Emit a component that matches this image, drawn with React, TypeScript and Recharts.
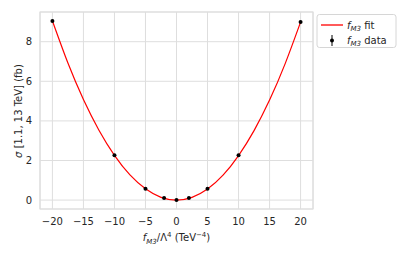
import { ComposedChart, Line, Scatter, XAxis, YAxis, CartesianGrid, ReferenceArea, Label } from "recharts";

// measured points
const xValues = [-20, -10, -5, -2, 0, 2, 5, 10, 20];
const yValues = [9.05, 2.26, 0.57, 0.1, 0.0, 0.1, 0.57, 2.26, 8.99];

// fit curve
const fitX = [-20, -17.5, -15, -12.5, -10, -7.5, -5, -2.5, 0, 2.5, 5, 7.5, 10, 12.5, 15, 17.5, 20];
const fitY = [9.05, 6.92, 5.08, 3.53, 2.26, 1.27, 0.57, 0.14, 0.0, 0.14, 0.56, 1.26, 2.25, 3.51, 5.05, 6.88, 8.99];

const xTicks = [-20, -15, -10, -5, 0, 5, 10, 15, 20];
const yTicks = [0, 2, 4, 6, 8];

const font = "DejaVu Sans";
const textColor = "#262626";
const gridColor = "#dedede";

const points = xValues.map((x, i) => ({ x, y: yValues[i] }));
const fit = fitX.map((x, i) => ({ x, y: fitY[i] }));

const fmt = (v: number) => (v < 0 ? `\u2212${Math.abs(v)}` : `${v}`);

const XLabel = () => (
  <text x={176.5} y={241} textAnchor="middle" fontFamily={font} fontSize={10} fill={textColor}>
    <tspan fontStyle="italic">f</tspan>
    <tspan fontSize={7} fontStyle="italic" dy={2.5}>M3</tspan>
    <tspan dy={-2.5}>/Λ</tspan>
    <tspan fontSize={7} dy={-4}>4</tspan>
    <tspan dy={4}> (TeV</tspan>
    <tspan fontSize={7} dy={-4}>−4</tspan>
    <tspan dy={4}>)</tspan>
  </text>
);

const YLabel = () => (
  <text
    x={0}
    y={0}
    transform="translate(21.5,111) rotate(-90)"
    textAnchor="middle"
    fontFamily={font}
    fontSize={10}
    fill={textColor}
  >
    <tspan fontStyle="italic">σ</tspan>
    <tspan> [1.1, 13 TeV] (fb)</tspan>
  </text>
);

const LegendBox = () => (
  <svg width={407} height={255} style={{ position: "absolute", left: 0, top: 0, pointerEvents: "none" }}>
    <rect x={317} y={14.5} width={79} height={33} rx={2.5} fill="white" stroke="#d6d6d6" strokeWidth={1} />
    <line x1={321} x2={343} y1={25} y2={25} stroke="#ff0000" strokeWidth={1.3} />
    <text x={347} y={28.5} fontFamily={font} fontSize={10} fill={textColor}>
      <tspan fontStyle="italic">f</tspan>
      <tspan fontSize={7} fontStyle="italic" dy={2.5}>M3</tspan>
      <tspan dy={-2.5}> fit</tspan>
    </text>
    <line x1={332} x2={332} y1={35} y2={46} stroke="#000" strokeWidth={1} />
    <circle cx={332} cy={40.5} r={2} fill="#000" />
    <text x={347} y={43.5} fontFamily={font} fontSize={10} fill={textColor}>
      <tspan fontStyle="italic">f</tspan>
      <tspan fontSize={7} fontStyle="italic" dy={2.5}>M3</tspan>
      <tspan dy={-2.5}> data</tspan>
    </text>
  </svg>
);

export default function App() {
  return (
    <div style={{ position: "absolute", left: 0, top: 0, width: 407, height: 255, background: "white" }}>
      <ComposedChart width={407} height={255} margin={{ top: 12, right: 94, bottom: 0, left: 0 }}>
        <CartesianGrid stroke={gridColor} strokeWidth={1} />
        <XAxis
          dataKey="x"
          type="number"
          domain={[-22, 22]}
          ticks={xTicks}
          tickFormatter={fmt}
          allowDataOverflow
          axisLine={false}
          tickLine={false}
          height={46}
          tick={{ fontFamily: font, fontSize: 10, fill: textColor }}
          tickMargin={3}
        >
          <Label content={<XLabel />} />
        </XAxis>
        <YAxis
          dataKey="y"
          type="number"
          domain={[-0.45, 9.5]}
          ticks={yTicks}
          allowDataOverflow
          axisLine={false}
          tickLine={false}
          width={40}
          tick={{ fontFamily: font, fontSize: 10, fill: textColor }}
          tickMargin={2}
        >
          <Label content={<YLabel />} />
        </YAxis>
        <ReferenceArea x1={-22} x2={22} y1={-0.45} y2={9.5} fill="none" stroke={gridColor} strokeWidth={1.2} />
        <Line
          data={fit}
          dataKey="y"
          type="natural"
          stroke="#ff0000"
          strokeWidth={1.2}
          dot={false}
          isAnimationActive={false}
        />
        <Scatter
          data={points}
          dataKey="y"
          fill="#000000"
          isAnimationActive={false}
          shape={(p: any) => <circle cx={p.cx} cy={p.cy} r={2} fill="#000" />}
        />
      </ComposedChart>
      <LegendBox />
    </div>
  );
}
